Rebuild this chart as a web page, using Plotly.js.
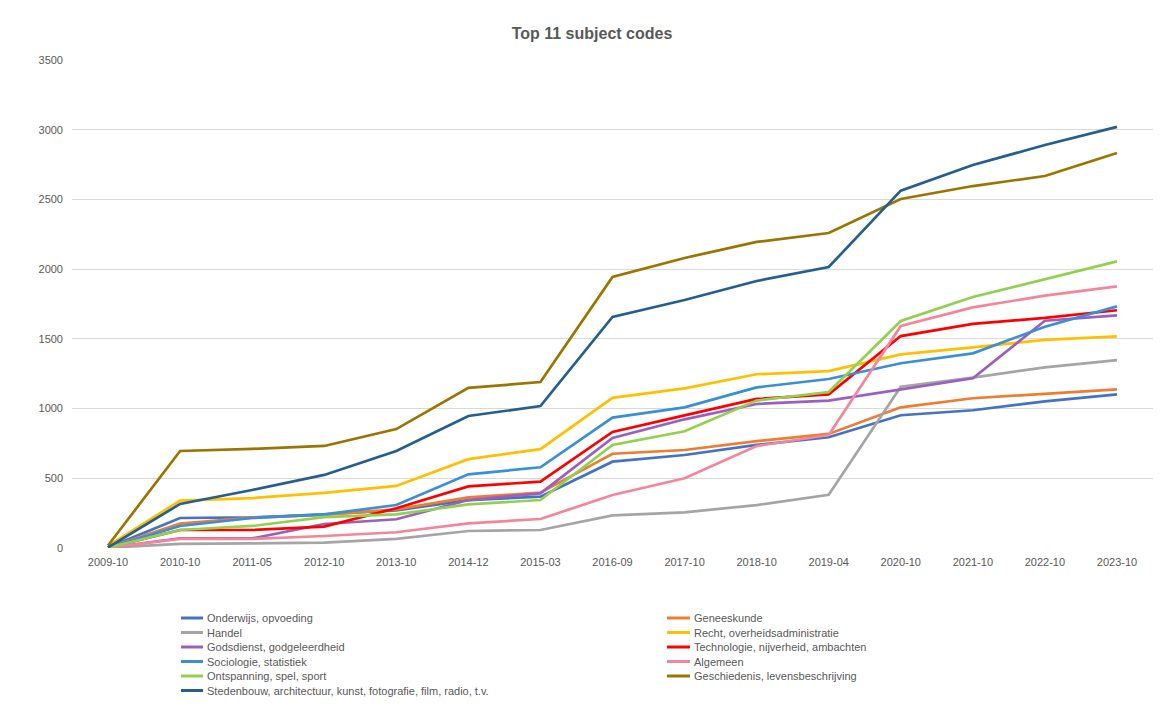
<!DOCTYPE html>
<html>
<head>
<meta charset="utf-8">
<script src="https://cdn.plot.ly/plotly-3.0.1.min.js"></script>
<style>
  html, body { margin: 0; padding: 0; background: #ffffff; }
  #chart { width: 1174px; height: 727px; }
</style>
</head>
<body>
<div id="chart"></div>
<script>
const categories = ["2009-10", "2010-10", "2011-05", "2012-10", "2013-10", "2014-12", "2015-03", "2016-09", "2017-10", "2018-10", "2019-04", "2020-10", "2021-10", "2022-10", "2023-10"];

const seriesNames = [
  "Onderwijs, opvoeding",
  "Geneeskunde",
  "Handel",
  "Recht, overheidsadministratie",
  "Godsdienst, godgeleerdheid",
  "Technologie, nijverheid, ambachten",
  "Sociologie, statistiek",
  "Algemeen",
  "Ontspanning, spel, sport",
  "Geschiedenis, levensbeschrijving",
  "Stedenbouw, architectuur, kunst, fotografie, film, radio, t.v."
];

const seriesColors = ["#4472C4", "#ED7D31", "#A5A5A5", "#FFC000", "#9B5FC0", "#FF0000", "#3A8FD6", "#F4869B", "#92D050", "#9C7400", "#255E91"];

const onderwijs    = [3, 215, 220, 242, 270, 344, 368, 619, 667, 739, 794, 952, 988, 1052, 1102];
const geneeskunde  = [3, 175, 218, 237, 277, 363, 397, 676, 703, 767, 818, 1009, 1074, 1105, 1138];
const handel       = [2, 29, 33, 38, 65, 122, 129, 234, 256, 308, 382, 1157, 1222, 1296, 1348];
const recht        = [15, 340, 358, 395, 445, 637, 709, 1077, 1145, 1246, 1269, 1389, 1439, 1492, 1518];
const godsdienst   = [2, 70, 69, 172, 206, 344, 392, 789, 923, 1033, 1057, 1138, 1217, 1630, 1669];
const technologie  = [3, 129, 129, 153, 285, 442, 476, 832, 951, 1069, 1102, 1520, 1607, 1650, 1705];
const sociologie   = [3, 158, 215, 241, 308, 528, 579, 935, 1009, 1152, 1212, 1325, 1396, 1587, 1733];
const algemeen     = [2, 66, 65, 86, 113, 177, 208, 380, 500, 731, 810, 1592, 1726, 1810, 1877];
const ontspanning  = [3, 129, 158, 222, 241, 313, 344, 739, 837, 1057, 1119, 1628, 1800, 1927, 2056];
const geschiedenis = [18, 696, 711, 732, 853, 1148, 1190, 1944, 2080, 2195, 2259, 2503, 2596, 2668, 2833];
const stedenbouw   = [4, 316, 416, 524, 696, 947, 1018, 1657, 1779, 1915, 2015, 2563, 2747, 2890, 3020];

const seriesValues = [onderwijs, geneeskunde, handel, recht, godsdienst, technologie, sociologie, algemeen, ontspanning, geschiedenis, stedenbouw];

const W = 1174, H = 727;
const M = { l: 72, r: 21, t: 60, b: 179 };
const plotW = W - M.l - M.r;
const plotH = H - M.t - M.b;
const px2x = p => (p - M.l) / plotW;
const px2y = p => (H - M.b - p) / plotH;

const traces = seriesNames.map((name, i) => ({
  type: "scatter",
  mode: "lines",
  name: name,
  x: categories,
  y: seriesValues[i],
  line: { color: seriesColors[i], width: 2.7 },
  showlegend: false,
  hoverinfo: "x+y+name"
}));

// manual legend (two columns, row-major order) to match spacing
const shapes = [];
const annotations = [];
const colLine = [[181, 203], [667, 690]];
const colText = [205, 692];
const rowY0 = 618, rowStep = 14.5;
seriesNames.forEach((name, i) => {
  const col = i % 2, row = Math.floor(i / 2);
  const yy = px2y(rowY0 + row * rowStep);
  shapes.push({
    type: "line", xref: "paper", yref: "paper",
    x0: px2x(colLine[col][0]), x1: px2x(colLine[col][1]), y0: yy, y1: yy,
    line: { color: seriesColors[i], width: 3 }
  });
  annotations.push({
    xref: "paper", yref: "paper", x: px2x(colText[col]), y: yy,
    xanchor: "left", yanchor: "middle", showarrow: false,
    text: name, font: { family: "Liberation Sans, Arial, sans-serif", size: 11, color: "#595959" }
  });
});

const layout = {
  width: W, height: H,
  margin: M,
  paper_bgcolor: "#ffffff",
  plot_bgcolor: "#ffffff",
  font: { family: "Liberation Sans, Arial, sans-serif", size: 11, color: "#595959" },
  title: {
    text: "<b>Top 11 subject codes</b>",
    x: 592 / W, xref: "container", xanchor: "center",
    y: 1 - 33 / H, yref: "container", yanchor: "middle",
    font: { family: "Liberation Sans, Arial, sans-serif", size: 16, color: "#595959" }
  },
  xaxis: {
    type: "category",
    range: [-0.5, categories.length - 0.5],
    color: "#595959",
    showgrid: false, zeroline: false, showline: false,
    ticks: "", ticklabelstandoff: 6,
    tickfont: { size: 11, color: "#595959" },
    fixedrange: true
  },
  yaxis: {
    range: [0, 3500],
    dtick: 500,
    color: "#595959",
    showgrid: true, gridcolor: "#D9D9D9", gridwidth: 1,
    zeroline: false, showline: false,
    ticks: "", ticklabelstandoff: 8,
    tickfont: { size: 11, color: "#595959" },
    fixedrange: true
  },
  shapes: shapes,
  annotations: annotations,
  showlegend: false
};

Plotly.newPlot("chart", traces, layout, { displayModeBar: false, staticPlot: false });
</script>
</body>
</html>
